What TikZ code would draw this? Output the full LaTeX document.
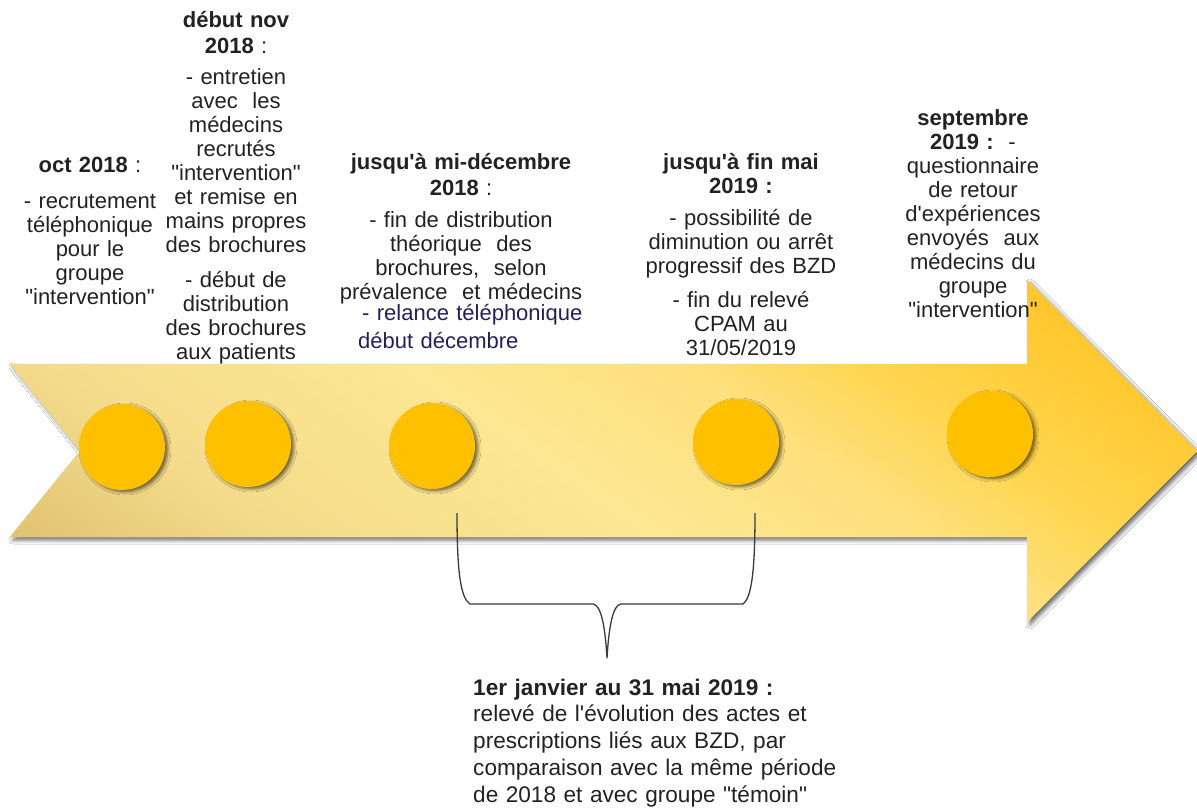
\documentclass[tikz,border=0pt]{standalone}
\usepackage{fontspec}
\setmainfont{Liberation Sans}
\newfontfamily\lsans{Liberation Sans}
\usetikzlibrary{shadows.blur}
\definecolor{ArTanA}{HTML}{E0C06C}
\definecolor{ArTan}{HTML}{E3C573}
\definecolor{ArTanB}{HTML}{F3DB8B}
\definecolor{ArLight}{HTML}{FDE792}
\definecolor{ArMid}{HTML}{FEE07C}
\definecolor{ArDeep}{HTML}{FFD650}
\definecolor{ArGold}{HTML}{FFC72C}
\definecolor{Circ}{HTML}{FFC000}
\definecolor{Txt}{HTML}{222222}
\definecolor{Navy}{HTML}{22205A}
\definecolor{BraceC}{HTML}{3A3A3A}
\pgfdeclarehorizontalshading{arrowgrad}{100bp}{color(0bp)=(ArTanA); color(25bp)=(ArTanA); color(27bp)=(ArTan); color(35bp)=(ArTanB); color(47.7bp)=(ArLight); color(57bp)=(ArMid); color(63bp)=(ArDeep); color(72bp)=(ArGold); color(100bp)=(ArGold)}
\begin{document}
\begin{tikzpicture}[x=1pt,y=-1pt,
  txt/.style={text=Txt, inner sep=0pt, font=\lsans\fontsize{22}{24}\selectfont, align=center},
  bottomtxt/.style={text=Txt, inner sep=0pt, font=\lsans\fontsize{22.6}{26.8}\selectfont, align=left},
  dot/.style={circle, fill=Circ, minimum size=86pt, inner sep=0pt,
    blur shadow={shadow xshift=3pt, shadow yshift=-2pt, shadow blur radius=3pt, shadow opacity=55}},
  braceline/.style={draw=BraceC, line width=1.3pt, line join=round}]
\useasboundingbox (0,0) rectangle (1197,807);
\fill[white] (0,0) rectangle (1197,807);
% arrow: shadow + base fill
\fill[ArLight, blur shadow={shadow xshift=3pt, shadow yshift=-3pt, shadow blur radius=4pt, shadow opacity=60}]
  (10,364) -- (1027,364) -- (1027,280) -- (1197,451) -- (1027,622) -- (1027,537) -- (10,537) -- (80,451) -- cycle;
% arrow: diagonal gradient
\begin{scope}
  \clip (10,364) -- (1027,364) -- (1027,280) -- (1197,451) -- (1027,622) -- (1027,537) -- (10,537) -- (80,451) -- cycle;
  \begin{scope}[transform canvas={shift={(603.5,451)}, rotate=55.7}]
    \shade[shading=arrowgrad] (-420,-650) rectangle (420,650);
  \end{scope}
\end{scope}
% circles
\node[dot] (c1) at (122,447) {};
\node[dot] (c2) at (248,444) {};
\node[dot] (c3) at (432,446) {};
\node[dot] (c4) at (736,442) {};
\node[dot] (c5) at (990,434) {};
% texts
\node[txt, text width=170pt, anchor=base] (t1) at (90,172)
  {\textbf{oct 2018} :\\[12pt]
   - recrutement\\ téléphonique\\ pour le\\ groupe\\ "intervention"};
\node[txt, text width=150pt, anchor=base] (t2) at (236,27)
  {\textbf{début nov}\\[2pt] \textbf{2018} :\\[7pt]
   - entretien\\ avec\ \ les\\ médecins\\ recrutés\\ "intervention"\\ et remise en\\ mains propres\\ des brochures\\[11pt]
   - début de\\ distribution\\ des brochures\\ aux patients};
\node[txt, text width=260pt, anchor=base] (t3) at (461,169)
  {\textbf{jusqu'à mi-décembre}\\[2pt] \textbf{2018} :\\[8pt]
   - fin de distribution\\ théorique\ \ des\\ brochures,\ \ selon\\ prévalence\ \ et médecins};
\node[txt, text=Navy, align=left, text width=240pt, anchor=base west, font=\lsans\fontsize{22}{28}\selectfont] (t3b) at (358,320)
  {\hspace*{4pt}- relance téléphonique\\ début décembre};
\node[txt, text width=220pt, anchor=base] (t4) at (741,169)
  {\textbf{jusqu'à fin mai}\\ \textbf{2019 :}\\[8pt]
   - possibilité de\\ diminution ou arrêt\\ progressif des BZD\\[10pt]
   - fin du relevé\\ CPAM au\\ 31/05/2019};
\node[txt, text width=150pt, anchor=base] (t5) at (973,125)
  {\textbf{septembre}\\ \textbf{2019 :}\ \ -\\ questionnaire\\ de retour\\ d'expériences\\ envoyés\ \ aux\\ médecins du\\ groupe\\ "intervention"};
\node[bottomtxt, text width=400pt, anchor=base west] (tb) at (473,695)
  {\textbf{1er janvier au 31 mai 2019 :}\\
   relevé de l'évolution des actes et\\
   prescriptions liés aux BZD, par\\
   comparaison avec la même période\\
   de 2018 et avec groupe "témoin"};
% brace
\coordinate (bL) at (457,513);
\coordinate (bR) at (755,513);
\coordinate (bT) at (607,658);
\draw[braceline] (bL) .. controls (457,575) and (461,598) .. (470,604) -- (593,604)
  .. controls (601,605) and (605,625) .. (bT)
  .. controls (609,625) and (613,605) .. (621,604) -- (743,604)
  .. controls (751,598) and (755,575) .. (bR);
\end{tikzpicture}
\end{document}
